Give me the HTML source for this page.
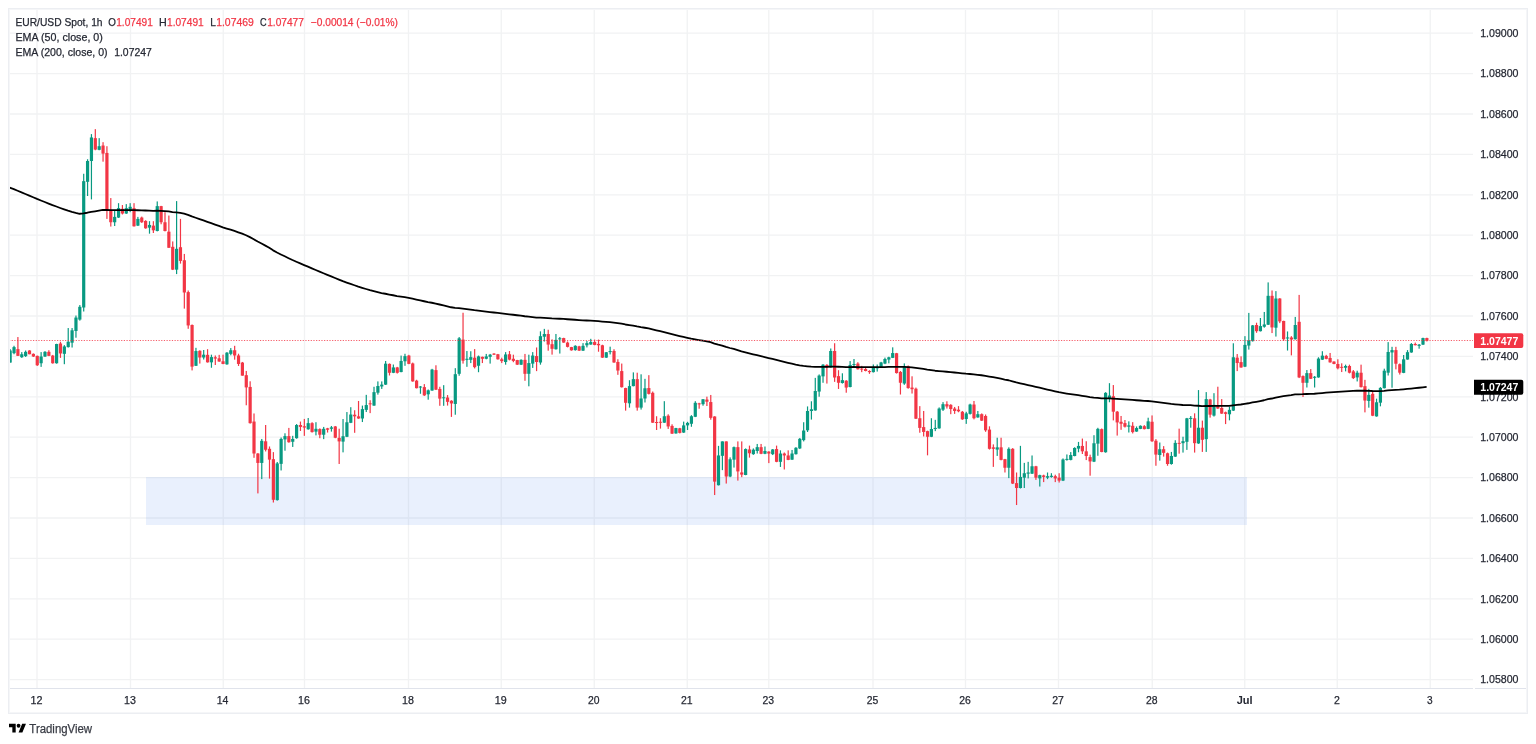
<!DOCTYPE html>
<html><head><meta charset="utf-8"><title>EUR/USD Spot 1h</title>
<style>html,body{margin:0;padding:0;background:#fff;}svg{display:block;}</style>
</head><body>
<svg width="1536" height="744" viewBox="0 0 1536 744">
<rect x="0" y="0" width="1536" height="744" fill="#ffffff"/>
<g stroke="#f1f2f3" stroke-width="1.3">
<line x1="9" y1="33.20" x2="1473" y2="33.20"/>
<line x1="9" y1="73.60" x2="1473" y2="73.60"/>
<line x1="9" y1="114.00" x2="1473" y2="114.00"/>
<line x1="9" y1="154.40" x2="1473" y2="154.40"/>
<line x1="9" y1="194.80" x2="1473" y2="194.80"/>
<line x1="9" y1="235.20" x2="1473" y2="235.20"/>
<line x1="9" y1="275.60" x2="1473" y2="275.60"/>
<line x1="9" y1="316.00" x2="1473" y2="316.00"/>
<line x1="9" y1="356.40" x2="1473" y2="356.40"/>
<line x1="9" y1="396.80" x2="1473" y2="396.80"/>
<line x1="9" y1="437.20" x2="1473" y2="437.20"/>
<line x1="9" y1="477.60" x2="1473" y2="477.60"/>
<line x1="9" y1="518.00" x2="1473" y2="518.00"/>
<line x1="9" y1="558.40" x2="1473" y2="558.40"/>
<line x1="9" y1="598.80" x2="1473" y2="598.80"/>
<line x1="9" y1="639.20" x2="1473" y2="639.20"/>
<line x1="9" y1="679.60" x2="1473" y2="679.60"/>
<line x1="37.00" y1="9" x2="37.00" y2="688"/>
<line x1="130.50" y1="9" x2="130.50" y2="688"/>
<line x1="223.25" y1="9" x2="223.25" y2="688"/>
<line x1="304.50" y1="9" x2="304.50" y2="688"/>
<line x1="408.50" y1="9" x2="408.50" y2="688"/>
<line x1="501.25" y1="9" x2="501.25" y2="688"/>
<line x1="594.25" y1="9" x2="594.25" y2="688"/>
<line x1="687.25" y1="9" x2="687.25" y2="688"/>
<line x1="768.80" y1="9" x2="768.80" y2="688"/>
<line x1="873.00" y1="9" x2="873.00" y2="688"/>
<line x1="965.50" y1="9" x2="965.50" y2="688"/>
<line x1="1058.50" y1="9" x2="1058.50" y2="688"/>
<line x1="1152.25" y1="9" x2="1152.25" y2="688"/>
<line x1="1244.75" y1="9" x2="1244.75" y2="688"/>
<line x1="1337.25" y1="9" x2="1337.25" y2="688"/>
<line x1="1430.25" y1="9" x2="1430.25" y2="688"/>
</g>
<rect x="146" y="477" width="1101" height="48" fill="rgb(108,155,242)" fill-opacity="0.15" shape-rendering="crispEdges"/>
<g>
<rect x="9.55" y="349.14" width="1.2" height="13.44" fill="#089981"/>
<rect x="8.55" y="350.48" width="3.2" height="12.10" fill="#089981"/>
<rect x="13.43" y="345.78" width="1.2" height="8.47" fill="#089981"/>
<rect x="12.43" y="347.12" width="3.2" height="6.05" fill="#089981"/>
<rect x="17.30" y="337.04" width="1.2" height="18.82" fill="#f23645"/>
<rect x="16.30" y="349.14" width="3.2" height="6.72" fill="#f23645"/>
<rect x="21.17" y="352.10" width="1.2" height="5.78" fill="#089981"/>
<rect x="20.17" y="354.25" width="3.2" height="2.96" fill="#089981"/>
<rect x="25.04" y="350.48" width="1.2" height="6.45" fill="#089981"/>
<rect x="24.04" y="351.83" width="3.2" height="4.30" fill="#089981"/>
<rect x="28.91" y="350.22" width="1.2" height="4.03" fill="#f23645"/>
<rect x="27.91" y="350.48" width="3.2" height="3.76" fill="#f23645"/>
<rect x="32.78" y="353.44" width="1.2" height="3.49" fill="#f23645"/>
<rect x="31.78" y="353.84" width="3.2" height="2.69" fill="#f23645"/>
<rect x="36.65" y="355.59" width="1.2" height="10.35" fill="#f23645"/>
<rect x="35.65" y="355.86" width="3.2" height="9.41" fill="#f23645"/>
<rect x="40.52" y="352.10" width="1.2" height="14.78" fill="#089981"/>
<rect x="39.52" y="356.53" width="3.2" height="6.72" fill="#089981"/>
<rect x="44.39" y="351.16" width="1.2" height="5.78" fill="#089981"/>
<rect x="43.39" y="351.83" width="3.2" height="4.70" fill="#089981"/>
<rect x="48.26" y="350.22" width="1.2" height="5.91" fill="#f23645"/>
<rect x="47.26" y="351.83" width="3.2" height="4.03" fill="#f23645"/>
<rect x="52.13" y="354.92" width="1.2" height="8.74" fill="#f23645"/>
<rect x="51.13" y="355.59" width="3.2" height="7.66" fill="#f23645"/>
<rect x="56.00" y="343.76" width="1.2" height="19.89" fill="#089981"/>
<rect x="55.00" y="344.03" width="3.2" height="19.22" fill="#089981"/>
<rect x="59.87" y="341.75" width="1.2" height="16.13" fill="#f23645"/>
<rect x="58.87" y="343.49" width="3.2" height="9.95" fill="#f23645"/>
<rect x="63.75" y="345.11" width="1.2" height="19.09" fill="#089981"/>
<rect x="62.75" y="346.45" width="3.2" height="7.39" fill="#089981"/>
<rect x="67.62" y="328.04" width="1.2" height="19.49" fill="#089981"/>
<rect x="66.62" y="341.75" width="3.2" height="5.38" fill="#089981"/>
<rect x="71.49" y="328.04" width="1.2" height="19.49" fill="#089981"/>
<rect x="70.49" y="330.32" width="3.2" height="12.37" fill="#089981"/>
<rect x="75.36" y="315.54" width="1.2" height="22.18" fill="#089981"/>
<rect x="74.36" y="317.55" width="3.2" height="13.44" fill="#089981"/>
<rect x="79.23" y="305.05" width="1.2" height="15.59" fill="#089981"/>
<rect x="78.23" y="306.80" width="3.2" height="12.77" fill="#089981"/>
<rect x="83.10" y="173.76" width="1.2" height="137.74" fill="#089981"/>
<rect x="82.10" y="181.16" width="3.2" height="126.34" fill="#089981"/>
<rect x="86.97" y="159.25" width="1.2" height="36.75" fill="#089981"/>
<rect x="85.97" y="160.99" width="3.2" height="20.83" fill="#089981"/>
<rect x="90.84" y="134.11" width="1.2" height="65.29" fill="#089981"/>
<rect x="89.84" y="137.47" width="3.2" height="23.52" fill="#089981"/>
<rect x="94.71" y="129.14" width="1.2" height="21.10" fill="#f23645"/>
<rect x="93.71" y="138.15" width="3.2" height="11.42" fill="#f23645"/>
<rect x="98.58" y="138.15" width="1.2" height="12.10" fill="#089981"/>
<rect x="97.58" y="146.21" width="3.2" height="3.63" fill="#089981"/>
<rect x="102.45" y="142.18" width="1.2" height="19.49" fill="#f23645"/>
<rect x="101.45" y="145.54" width="3.2" height="8.06" fill="#f23645"/>
<rect x="106.32" y="146.21" width="1.2" height="72.69" fill="#f23645"/>
<rect x="105.32" y="152.93" width="3.2" height="57.87" fill="#f23645"/>
<rect x="110.20" y="198.06" width="1.2" height="28.49" fill="#f23645"/>
<rect x="109.20" y="210.83" width="3.2" height="11.42" fill="#f23645"/>
<rect x="114.07" y="210.83" width="1.2" height="15.19" fill="#089981"/>
<rect x="113.07" y="216.88" width="3.2" height="5.38" fill="#089981"/>
<rect x="117.94" y="203.17" width="1.2" height="14.78" fill="#089981"/>
<rect x="116.94" y="208.15" width="3.2" height="9.41" fill="#089981"/>
<rect x="121.81" y="205.05" width="1.2" height="9.41" fill="#f23645"/>
<rect x="120.81" y="208.82" width="3.2" height="4.70" fill="#f23645"/>
<rect x="125.68" y="204.11" width="1.2" height="9.81" fill="#089981"/>
<rect x="124.68" y="208.15" width="3.2" height="5.38" fill="#089981"/>
<rect x="129.55" y="203.17" width="1.2" height="9.01" fill="#089981"/>
<rect x="128.55" y="206.80" width="3.2" height="3.36" fill="#089981"/>
<rect x="133.42" y="203.17" width="1.2" height="23.39" fill="#f23645"/>
<rect x="132.42" y="208.15" width="3.2" height="18.15" fill="#f23645"/>
<rect x="137.29" y="216.88" width="1.2" height="9.14" fill="#089981"/>
<rect x="136.29" y="218.90" width="3.2" height="6.72" fill="#089981"/>
<rect x="141.16" y="216.61" width="1.2" height="6.32" fill="#f23645"/>
<rect x="140.16" y="217.55" width="3.2" height="4.70" fill="#f23645"/>
<rect x="145.03" y="220.24" width="1.2" height="8.47" fill="#f23645"/>
<rect x="144.03" y="220.91" width="3.2" height="7.39" fill="#f23645"/>
<rect x="148.90" y="221.18" width="1.2" height="12.50" fill="#089981"/>
<rect x="147.90" y="224.95" width="3.2" height="2.69" fill="#089981"/>
<rect x="152.77" y="221.18" width="1.2" height="11.83" fill="#f23645"/>
<rect x="151.77" y="225.62" width="3.2" height="4.70" fill="#f23645"/>
<rect x="156.64" y="201.42" width="1.2" height="29.97" fill="#089981"/>
<rect x="155.64" y="206.13" width="3.2" height="24.87" fill="#089981"/>
<rect x="160.52" y="205.86" width="1.2" height="18.41" fill="#f23645"/>
<rect x="159.52" y="206.13" width="3.2" height="16.13" fill="#f23645"/>
<rect x="164.39" y="212.18" width="1.2" height="19.22" fill="#f23645"/>
<rect x="163.39" y="222.26" width="3.2" height="8.74" fill="#f23645"/>
<rect x="168.26" y="215.54" width="1.2" height="32.26" fill="#f23645"/>
<rect x="167.26" y="231.67" width="3.2" height="16.13" fill="#f23645"/>
<rect x="172.13" y="241.42" width="1.2" height="28.63" fill="#f23645"/>
<rect x="171.13" y="246.80" width="3.2" height="22.85" fill="#f23645"/>
<rect x="176.00" y="201.10" width="1.2" height="72.99" fill="#089981"/>
<rect x="175.00" y="248.82" width="3.2" height="20.83" fill="#089981"/>
<rect x="179.87" y="218.90" width="1.2" height="44.70" fill="#f23645"/>
<rect x="178.87" y="247.20" width="3.2" height="13.71" fill="#f23645"/>
<rect x="183.74" y="253.92" width="1.2" height="54.70" fill="#f23645"/>
<rect x="182.74" y="260.24" width="3.2" height="32.26" fill="#f23645"/>
<rect x="187.61" y="290.48" width="1.2" height="38.31" fill="#f23645"/>
<rect x="186.61" y="292.10" width="3.2" height="33.33" fill="#f23645"/>
<rect x="191.48" y="324.44" width="1.2" height="45.97" fill="#f23645"/>
<rect x="190.48" y="325.00" width="3.2" height="41.61" fill="#f23645"/>
<rect x="195.35" y="347.82" width="1.2" height="18.15" fill="#089981"/>
<rect x="194.35" y="351.05" width="3.2" height="14.76" fill="#089981"/>
<rect x="199.22" y="350.24" width="1.2" height="13.31" fill="#f23645"/>
<rect x="198.22" y="350.81" width="3.2" height="6.69" fill="#f23645"/>
<rect x="203.09" y="350.00" width="1.2" height="9.52" fill="#089981"/>
<rect x="202.09" y="354.68" width="3.2" height="2.82" fill="#089981"/>
<rect x="206.97" y="349.19" width="1.2" height="13.39" fill="#f23645"/>
<rect x="205.97" y="354.84" width="3.2" height="7.50" fill="#f23645"/>
<rect x="210.84" y="354.68" width="1.2" height="13.06" fill="#089981"/>
<rect x="209.84" y="357.10" width="3.2" height="5.24" fill="#089981"/>
<rect x="214.71" y="355.48" width="1.2" height="9.52" fill="#f23645"/>
<rect x="213.71" y="357.26" width="3.2" height="1.29" fill="#f23645"/>
<rect x="218.58" y="354.84" width="1.2" height="6.94" fill="#f23645"/>
<rect x="217.58" y="358.31" width="3.2" height="3.23" fill="#f23645"/>
<rect x="222.45" y="354.68" width="1.2" height="9.52" fill="#f23645"/>
<rect x="221.45" y="361.29" width="3.2" height="2.66" fill="#f23645"/>
<rect x="226.32" y="352.10" width="1.2" height="12.66" fill="#089981"/>
<rect x="225.32" y="352.66" width="3.2" height="11.69" fill="#089981"/>
<rect x="230.19" y="348.06" width="1.2" height="7.26" fill="#089981"/>
<rect x="229.19" y="350.24" width="3.2" height="3.63" fill="#089981"/>
<rect x="234.06" y="345.81" width="1.2" height="13.87" fill="#f23645"/>
<rect x="233.06" y="350.24" width="3.2" height="5.24" fill="#f23645"/>
<rect x="237.93" y="353.71" width="1.2" height="12.26" fill="#f23645"/>
<rect x="236.93" y="355.48" width="3.2" height="8.47" fill="#f23645"/>
<rect x="241.80" y="361.94" width="1.2" height="13.71" fill="#f23645"/>
<rect x="240.80" y="362.58" width="3.2" height="13.06" fill="#f23645"/>
<rect x="245.67" y="370.94" width="1.2" height="34.34" fill="#f23645"/>
<rect x="244.67" y="375.17" width="3.2" height="12.23" fill="#f23645"/>
<rect x="249.54" y="381.29" width="1.2" height="42.33" fill="#f23645"/>
<rect x="248.54" y="386.93" width="3.2" height="36.22" fill="#f23645"/>
<rect x="253.41" y="413.46" width="1.2" height="44.34" fill="#f23645"/>
<rect x="252.41" y="421.55" width="3.2" height="31.95" fill="#f23645"/>
<rect x="257.29" y="453.05" width="1.2" height="40.35" fill="#f23645"/>
<rect x="256.29" y="453.52" width="3.2" height="9.41" fill="#f23645"/>
<rect x="261.16" y="438.94" width="1.2" height="40.16" fill="#089981"/>
<rect x="260.16" y="440.82" width="3.2" height="22.11" fill="#089981"/>
<rect x="265.03" y="425.00" width="1.2" height="26.45" fill="#f23645"/>
<rect x="264.03" y="441.29" width="3.2" height="8.47" fill="#f23645"/>
<rect x="268.90" y="446.46" width="1.2" height="32.14" fill="#f23645"/>
<rect x="267.90" y="448.81" width="3.2" height="10.82" fill="#f23645"/>
<rect x="272.77" y="452.11" width="1.2" height="50.39" fill="#f23645"/>
<rect x="271.77" y="459.16" width="3.2" height="40.64" fill="#f23645"/>
<rect x="276.64" y="461.98" width="1.2" height="38.62" fill="#089981"/>
<rect x="275.64" y="463.40" width="3.2" height="36.70" fill="#089981"/>
<rect x="280.51" y="437.53" width="1.2" height="32.93" fill="#089981"/>
<rect x="279.51" y="438.94" width="3.2" height="24.93" fill="#089981"/>
<rect x="284.38" y="433.29" width="1.2" height="17.40" fill="#089981"/>
<rect x="283.38" y="436.11" width="3.2" height="3.29" fill="#089981"/>
<rect x="288.25" y="427.90" width="1.2" height="14.80" fill="#f23645"/>
<rect x="287.25" y="436.11" width="3.2" height="6.11" fill="#f23645"/>
<rect x="292.12" y="435.83" width="1.2" height="11.10" fill="#089981"/>
<rect x="291.12" y="438.94" width="3.2" height="2.82" fill="#089981"/>
<rect x="295.99" y="424.09" width="1.2" height="14.58" fill="#089981"/>
<rect x="294.99" y="425.03" width="3.2" height="13.17" fill="#089981"/>
<rect x="299.86" y="421.55" width="1.2" height="9.41" fill="#f23645"/>
<rect x="298.86" y="425.03" width="3.2" height="1.88" fill="#f23645"/>
<rect x="303.74" y="418.92" width="1.2" height="16.93" fill="#f23645"/>
<rect x="302.74" y="426.26" width="3.2" height="1.32" fill="#f23645"/>
<rect x="307.61" y="417.98" width="1.2" height="11.76" fill="#089981"/>
<rect x="306.61" y="423.15" width="3.2" height="6.11" fill="#089981"/>
<rect x="311.48" y="422.21" width="1.2" height="10.35" fill="#f23645"/>
<rect x="310.48" y="423.15" width="3.2" height="8.94" fill="#f23645"/>
<rect x="315.35" y="422.21" width="1.2" height="13.17" fill="#089981"/>
<rect x="314.35" y="428.80" width="3.2" height="2.82" fill="#089981"/>
<rect x="319.22" y="428.33" width="1.2" height="9.88" fill="#f23645"/>
<rect x="318.22" y="429.08" width="3.2" height="5.64" fill="#f23645"/>
<rect x="323.09" y="426.91" width="1.2" height="12.23" fill="#089981"/>
<rect x="322.09" y="428.80" width="3.2" height="5.93" fill="#089981"/>
<rect x="326.96" y="427.86" width="1.2" height="4.70" fill="#f23645"/>
<rect x="325.96" y="428.33" width="3.2" height="1.41" fill="#f23645"/>
<rect x="330.83" y="425.97" width="1.2" height="5.64" fill="#089981"/>
<rect x="329.83" y="427.38" width="3.2" height="1.41" fill="#089981"/>
<rect x="334.70" y="425.97" width="1.2" height="12.23" fill="#f23645"/>
<rect x="333.70" y="426.44" width="3.2" height="11.29" fill="#f23645"/>
<rect x="338.57" y="428.71" width="1.2" height="35.27" fill="#f23645"/>
<rect x="337.57" y="437.85" width="3.2" height="3.55" fill="#f23645"/>
<rect x="342.44" y="419.03" width="1.2" height="33.33" fill="#089981"/>
<rect x="341.44" y="436.24" width="3.2" height="5.38" fill="#089981"/>
<rect x="346.31" y="412.04" width="1.2" height="25.05" fill="#089981"/>
<rect x="345.31" y="422.26" width="3.2" height="14.52" fill="#089981"/>
<rect x="350.18" y="407.20" width="1.2" height="15.91" fill="#089981"/>
<rect x="349.18" y="414.52" width="3.2" height="8.28" fill="#089981"/>
<rect x="354.06" y="410.22" width="1.2" height="22.58" fill="#f23645"/>
<rect x="353.06" y="414.73" width="3.2" height="1.61" fill="#f23645"/>
<rect x="357.93" y="400.97" width="1.2" height="17.85" fill="#f23645"/>
<rect x="356.93" y="416.34" width="3.2" height="2.15" fill="#f23645"/>
<rect x="361.80" y="405.59" width="1.2" height="16.45" fill="#089981"/>
<rect x="360.80" y="409.14" width="3.2" height="9.35" fill="#089981"/>
<rect x="365.67" y="394.84" width="1.2" height="17.20" fill="#089981"/>
<rect x="364.67" y="405.05" width="3.2" height="4.84" fill="#089981"/>
<rect x="369.54" y="400.22" width="1.2" height="12.90" fill="#f23645"/>
<rect x="368.54" y="403.32" width="3.2" height="1.00" fill="#f23645"/>
<rect x="373.41" y="386.77" width="1.2" height="19.03" fill="#089981"/>
<rect x="372.41" y="392.15" width="3.2" height="13.44" fill="#089981"/>
<rect x="377.28" y="381.40" width="1.2" height="13.23" fill="#089981"/>
<rect x="376.28" y="386.02" width="3.2" height="6.67" fill="#089981"/>
<rect x="381.15" y="381.40" width="1.2" height="7.53" fill="#089981"/>
<rect x="380.15" y="384.62" width="3.2" height="1.83" fill="#089981"/>
<rect x="385.02" y="360.97" width="1.2" height="23.98" fill="#089981"/>
<rect x="384.02" y="363.66" width="3.2" height="20.97" fill="#089981"/>
<rect x="388.89" y="363.44" width="1.2" height="12.04" fill="#f23645"/>
<rect x="387.89" y="363.87" width="3.2" height="8.92" fill="#f23645"/>
<rect x="392.76" y="364.52" width="1.2" height="8.60" fill="#089981"/>
<rect x="391.76" y="367.42" width="3.2" height="5.38" fill="#089981"/>
<rect x="396.63" y="366.88" width="1.2" height="6.67" fill="#f23645"/>
<rect x="395.63" y="367.42" width="3.2" height="5.38" fill="#f23645"/>
<rect x="400.51" y="355.59" width="1.2" height="16.67" fill="#089981"/>
<rect x="399.51" y="360.97" width="3.2" height="11.08" fill="#089981"/>
<rect x="404.38" y="353.76" width="1.2" height="12.04" fill="#089981"/>
<rect x="403.38" y="356.13" width="3.2" height="5.16" fill="#089981"/>
<rect x="408.25" y="354.84" width="1.2" height="9.35" fill="#f23645"/>
<rect x="407.25" y="355.59" width="3.2" height="8.28" fill="#f23645"/>
<rect x="412.12" y="362.58" width="1.2" height="19.14" fill="#f23645"/>
<rect x="411.12" y="363.44" width="3.2" height="17.96" fill="#f23645"/>
<rect x="415.99" y="379.78" width="1.2" height="8.60" fill="#f23645"/>
<rect x="414.99" y="380.65" width="3.2" height="7.53" fill="#f23645"/>
<rect x="419.86" y="386.02" width="1.2" height="7.74" fill="#089981"/>
<rect x="418.86" y="386.54" width="3.2" height="1.00" fill="#089981"/>
<rect x="423.73" y="384.09" width="1.2" height="11.83" fill="#f23645"/>
<rect x="422.73" y="387.10" width="3.2" height="8.28" fill="#f23645"/>
<rect x="427.60" y="389.46" width="1.2" height="10.22" fill="#089981"/>
<rect x="426.60" y="390.32" width="3.2" height="3.98" fill="#089981"/>
<rect x="431.47" y="368.82" width="1.2" height="21.94" fill="#089981"/>
<rect x="430.47" y="369.57" width="3.2" height="20.97" fill="#089981"/>
<rect x="435.34" y="365.27" width="1.2" height="24.73" fill="#f23645"/>
<rect x="434.34" y="370.11" width="3.2" height="19.57" fill="#f23645"/>
<rect x="439.21" y="386.77" width="1.2" height="19.03" fill="#f23645"/>
<rect x="438.21" y="388.92" width="3.2" height="9.68" fill="#f23645"/>
<rect x="443.08" y="385.16" width="1.2" height="20.65" fill="#089981"/>
<rect x="442.08" y="397.30" width="3.2" height="1.00" fill="#089981"/>
<rect x="446.95" y="395.05" width="1.2" height="10.54" fill="#f23645"/>
<rect x="445.95" y="397.53" width="3.2" height="4.30" fill="#f23645"/>
<rect x="450.83" y="400.22" width="1.2" height="16.67" fill="#f23645"/>
<rect x="449.83" y="400.75" width="3.2" height="2.69" fill="#f23645"/>
<rect x="454.70" y="368.17" width="1.2" height="46.56" fill="#089981"/>
<rect x="453.70" y="374.19" width="3.2" height="29.78" fill="#089981"/>
<rect x="458.57" y="337.04" width="1.2" height="38.71" fill="#089981"/>
<rect x="457.57" y="338.33" width="3.2" height="35.48" fill="#089981"/>
<rect x="462.44" y="312.74" width="1.2" height="50.86" fill="#f23645"/>
<rect x="461.44" y="339.62" width="3.2" height="21.08" fill="#f23645"/>
<rect x="466.31" y="351.02" width="1.2" height="15.81" fill="#089981"/>
<rect x="465.31" y="358.76" width="3.2" height="1.08" fill="#089981"/>
<rect x="470.18" y="351.24" width="1.2" height="11.83" fill="#089981"/>
<rect x="469.18" y="357.15" width="3.2" height="2.69" fill="#089981"/>
<rect x="474.05" y="349.09" width="1.2" height="19.35" fill="#f23645"/>
<rect x="473.05" y="357.69" width="3.2" height="9.46" fill="#f23645"/>
<rect x="477.92" y="355.54" width="1.2" height="16.67" fill="#089981"/>
<rect x="476.92" y="356.40" width="3.2" height="9.35" fill="#089981"/>
<rect x="481.79" y="356.61" width="1.2" height="6.45" fill="#f23645"/>
<rect x="480.79" y="356.83" width="3.2" height="1.94" fill="#f23645"/>
<rect x="485.66" y="353.92" width="1.2" height="5.38" fill="#089981"/>
<rect x="484.66" y="356.40" width="3.2" height="2.37" fill="#089981"/>
<rect x="489.53" y="353.92" width="1.2" height="9.68" fill="#089981"/>
<rect x="488.53" y="354.68" width="3.2" height="2.15" fill="#089981"/>
<rect x="493.40" y="353.17" width="1.2" height="1.83" fill="#f23645"/>
<rect x="492.40" y="353.60" width="3.2" height="1.08" fill="#f23645"/>
<rect x="497.28" y="353.92" width="1.2" height="5.70" fill="#f23645"/>
<rect x="496.28" y="354.25" width="3.2" height="5.05" fill="#f23645"/>
<rect x="501.15" y="357.69" width="1.2" height="5.38" fill="#f23645"/>
<rect x="500.15" y="359.30" width="3.2" height="1.83" fill="#f23645"/>
<rect x="505.02" y="352.10" width="1.2" height="12.58" fill="#089981"/>
<rect x="504.02" y="354.46" width="3.2" height="7.53" fill="#089981"/>
<rect x="508.89" y="351.02" width="1.2" height="9.35" fill="#f23645"/>
<rect x="507.89" y="354.25" width="3.2" height="5.38" fill="#f23645"/>
<rect x="512.76" y="354.68" width="1.2" height="7.53" fill="#f23645"/>
<rect x="511.76" y="358.76" width="3.2" height="2.15" fill="#f23645"/>
<rect x="516.63" y="359.84" width="1.2" height="5.16" fill="#f23645"/>
<rect x="515.63" y="360.05" width="3.2" height="4.62" fill="#f23645"/>
<rect x="520.50" y="359.30" width="1.2" height="5.70" fill="#089981"/>
<rect x="519.50" y="359.84" width="3.2" height="4.84" fill="#089981"/>
<rect x="524.37" y="353.92" width="1.2" height="26.88" fill="#f23645"/>
<rect x="523.37" y="359.84" width="3.2" height="13.98" fill="#f23645"/>
<rect x="528.24" y="354.68" width="1.2" height="31.62" fill="#089981"/>
<rect x="527.24" y="363.06" width="3.2" height="10.75" fill="#089981"/>
<rect x="532.11" y="352.10" width="1.2" height="15.81" fill="#089981"/>
<rect x="531.11" y="355.54" width="3.2" height="8.06" fill="#089981"/>
<rect x="535.98" y="347.47" width="1.2" height="23.66" fill="#f23645"/>
<rect x="534.98" y="356.08" width="3.2" height="5.91" fill="#f23645"/>
<rect x="539.85" y="331.34" width="1.2" height="33.33" fill="#089981"/>
<rect x="538.85" y="336.18" width="3.2" height="26.34" fill="#089981"/>
<rect x="543.72" y="328.87" width="1.2" height="12.69" fill="#089981"/>
<rect x="542.72" y="334.03" width="3.2" height="2.69" fill="#089981"/>
<rect x="547.60" y="329.73" width="1.2" height="20.97" fill="#f23645"/>
<rect x="546.60" y="334.03" width="3.2" height="10.54" fill="#f23645"/>
<rect x="551.47" y="339.35" width="1.2" height="15.27" fill="#f23645"/>
<rect x="550.47" y="344.19" width="3.2" height="4.62" fill="#f23645"/>
<rect x="555.34" y="333.98" width="1.2" height="15.59" fill="#089981"/>
<rect x="554.34" y="339.89" width="3.2" height="9.35" fill="#089981"/>
<rect x="559.21" y="336.99" width="1.2" height="16.56" fill="#089981"/>
<rect x="558.21" y="338.28" width="3.2" height="1.08" fill="#089981"/>
<rect x="563.08" y="337.74" width="1.2" height="5.05" fill="#f23645"/>
<rect x="562.08" y="338.06" width="3.2" height="4.52" fill="#f23645"/>
<rect x="566.95" y="341.51" width="1.2" height="5.91" fill="#f23645"/>
<rect x="565.95" y="342.58" width="3.2" height="4.30" fill="#f23645"/>
<rect x="570.82" y="346.88" width="1.2" height="3.76" fill="#f23645"/>
<rect x="569.82" y="347.10" width="3.2" height="3.23" fill="#f23645"/>
<rect x="574.69" y="345.27" width="1.2" height="5.38" fill="#089981"/>
<rect x="573.69" y="345.81" width="3.2" height="4.30" fill="#089981"/>
<rect x="578.56" y="345.81" width="1.2" height="5.16" fill="#f23645"/>
<rect x="577.56" y="346.34" width="3.2" height="4.30" fill="#f23645"/>
<rect x="582.43" y="343.12" width="1.2" height="7.85" fill="#089981"/>
<rect x="581.43" y="345.81" width="3.2" height="4.84" fill="#089981"/>
<rect x="586.30" y="340.97" width="1.2" height="6.45" fill="#089981"/>
<rect x="585.30" y="343.12" width="3.2" height="2.15" fill="#089981"/>
<rect x="590.17" y="338.82" width="1.2" height="5.91" fill="#089981"/>
<rect x="589.17" y="342.04" width="3.2" height="2.47" fill="#089981"/>
<rect x="594.05" y="339.57" width="1.2" height="5.70" fill="#f23645"/>
<rect x="593.05" y="342.04" width="3.2" height="2.90" fill="#f23645"/>
<rect x="597.92" y="339.57" width="1.2" height="12.15" fill="#f23645"/>
<rect x="596.92" y="343.87" width="3.2" height="1.40" fill="#f23645"/>
<rect x="601.79" y="344.73" width="1.2" height="13.12" fill="#f23645"/>
<rect x="600.79" y="345.27" width="3.2" height="12.37" fill="#f23645"/>
<rect x="605.66" y="352.04" width="1.2" height="5.81" fill="#089981"/>
<rect x="604.66" y="352.26" width="3.2" height="5.38" fill="#089981"/>
<rect x="609.53" y="346.67" width="1.2" height="7.74" fill="#089981"/>
<rect x="608.53" y="351.11" width="3.2" height="1.00" fill="#089981"/>
<rect x="613.40" y="349.25" width="1.2" height="13.55" fill="#f23645"/>
<rect x="612.40" y="350.97" width="3.2" height="11.51" fill="#f23645"/>
<rect x="617.27" y="359.25" width="1.2" height="15.59" fill="#f23645"/>
<rect x="616.27" y="361.94" width="3.2" height="8.60" fill="#f23645"/>
<rect x="621.14" y="363.55" width="1.2" height="23.98" fill="#f23645"/>
<rect x="620.14" y="371.08" width="3.2" height="16.13" fill="#f23645"/>
<rect x="625.01" y="387.74" width="1.2" height="22.90" fill="#f23645"/>
<rect x="624.01" y="388.06" width="3.2" height="14.73" fill="#f23645"/>
<rect x="628.88" y="380.22" width="1.2" height="27.42" fill="#089981"/>
<rect x="627.88" y="386.13" width="3.2" height="17.20" fill="#089981"/>
<rect x="632.75" y="372.37" width="1.2" height="13.98" fill="#089981"/>
<rect x="631.75" y="379.14" width="3.2" height="6.99" fill="#089981"/>
<rect x="636.62" y="372.69" width="1.2" height="37.96" fill="#f23645"/>
<rect x="635.62" y="379.14" width="3.2" height="28.49" fill="#f23645"/>
<rect x="640.49" y="374.30" width="1.2" height="35.27" fill="#089981"/>
<rect x="639.49" y="398.49" width="3.2" height="9.14" fill="#089981"/>
<rect x="644.37" y="378.82" width="1.2" height="23.66" fill="#089981"/>
<rect x="643.37" y="388.28" width="3.2" height="10.22" fill="#089981"/>
<rect x="648.24" y="375.16" width="1.2" height="19.35" fill="#f23645"/>
<rect x="647.24" y="388.06" width="3.2" height="5.81" fill="#f23645"/>
<rect x="652.11" y="391.51" width="1.2" height="31.40" fill="#f23645"/>
<rect x="651.11" y="392.80" width="3.2" height="29.89" fill="#f23645"/>
<rect x="655.98" y="416.24" width="1.2" height="13.76" fill="#f23645"/>
<rect x="654.98" y="422.03" width="3.2" height="1.00" fill="#f23645"/>
<rect x="659.85" y="418.17" width="1.2" height="10.43" fill="#f23645"/>
<rect x="658.85" y="421.76" width="3.2" height="1.00" fill="#f23645"/>
<rect x="663.72" y="401.18" width="1.2" height="21.72" fill="#089981"/>
<rect x="662.72" y="416.24" width="3.2" height="6.45" fill="#089981"/>
<rect x="667.59" y="414.30" width="1.2" height="14.62" fill="#f23645"/>
<rect x="666.59" y="415.70" width="3.2" height="10.75" fill="#f23645"/>
<rect x="671.46" y="424.30" width="1.2" height="9.68" fill="#f23645"/>
<rect x="670.46" y="425.91" width="3.2" height="7.74" fill="#f23645"/>
<rect x="675.33" y="427.85" width="1.2" height="5.81" fill="#089981"/>
<rect x="674.33" y="428.06" width="3.2" height="5.38" fill="#089981"/>
<rect x="679.20" y="427.85" width="1.2" height="5.59" fill="#f23645"/>
<rect x="678.20" y="428.28" width="3.2" height="4.62" fill="#f23645"/>
<rect x="683.07" y="421.61" width="1.2" height="11.29" fill="#089981"/>
<rect x="682.07" y="425.38" width="3.2" height="7.20" fill="#089981"/>
<rect x="686.94" y="421.83" width="1.2" height="8.17" fill="#089981"/>
<rect x="685.94" y="422.90" width="3.2" height="2.47" fill="#089981"/>
<rect x="690.82" y="415.16" width="1.2" height="11.61" fill="#089981"/>
<rect x="689.82" y="416.24" width="3.2" height="7.53" fill="#089981"/>
<rect x="694.69" y="401.18" width="1.2" height="15.91" fill="#089981"/>
<rect x="693.69" y="402.80" width="3.2" height="13.98" fill="#089981"/>
<rect x="698.56" y="402.80" width="1.2" height="5.91" fill="#f23645"/>
<rect x="697.56" y="403.37" width="3.2" height="1.00" fill="#f23645"/>
<rect x="702.43" y="399.03" width="1.2" height="6.67" fill="#089981"/>
<rect x="701.43" y="399.25" width="3.2" height="4.95" fill="#089981"/>
<rect x="706.30" y="396.67" width="1.2" height="9.35" fill="#f23645"/>
<rect x="705.30" y="399.57" width="3.2" height="2.15" fill="#f23645"/>
<rect x="710.17" y="394.95" width="1.2" height="24.73" fill="#f23645"/>
<rect x="709.17" y="402.04" width="3.2" height="15.81" fill="#f23645"/>
<rect x="714.04" y="416.24" width="1.2" height="78.80" fill="#f23645"/>
<rect x="713.04" y="416.49" width="3.2" height="65.13" fill="#f23645"/>
<rect x="717.91" y="445.87" width="1.2" height="39.59" fill="#089981"/>
<rect x="716.91" y="455.45" width="3.2" height="29.76" fill="#089981"/>
<rect x="721.78" y="441.40" width="1.2" height="28.74" fill="#089981"/>
<rect x="720.78" y="441.40" width="3.2" height="14.43" fill="#089981"/>
<rect x="725.65" y="441.40" width="1.2" height="42.15" fill="#f23645"/>
<rect x="724.65" y="441.40" width="3.2" height="35.12" fill="#f23645"/>
<rect x="729.52" y="457.36" width="1.2" height="19.80" fill="#089981"/>
<rect x="728.52" y="459.28" width="3.2" height="17.24" fill="#089981"/>
<rect x="733.39" y="446.51" width="1.2" height="21.07" fill="#089981"/>
<rect x="732.39" y="447.15" width="3.2" height="12.52" fill="#089981"/>
<rect x="737.26" y="441.40" width="1.2" height="39.21" fill="#f23645"/>
<rect x="736.26" y="447.15" width="3.2" height="24.27" fill="#f23645"/>
<rect x="741.14" y="441.40" width="1.2" height="35.76" fill="#f23645"/>
<rect x="740.14" y="472.43" width="3.2" height="2.17" fill="#f23645"/>
<rect x="745.01" y="448.42" width="1.2" height="26.82" fill="#089981"/>
<rect x="744.01" y="449.06" width="3.2" height="25.93" fill="#089981"/>
<rect x="748.88" y="445.61" width="1.2" height="12.01" fill="#f23645"/>
<rect x="747.88" y="449.44" width="3.2" height="3.83" fill="#f23645"/>
<rect x="752.75" y="448.42" width="1.2" height="6.39" fill="#089981"/>
<rect x="751.75" y="449.70" width="3.2" height="4.47" fill="#089981"/>
<rect x="756.62" y="443.95" width="1.2" height="9.58" fill="#089981"/>
<rect x="755.62" y="447.15" width="3.2" height="3.83" fill="#089981"/>
<rect x="760.49" y="443.95" width="1.2" height="10.22" fill="#f23645"/>
<rect x="759.49" y="447.15" width="3.2" height="6.64" fill="#f23645"/>
<rect x="764.36" y="446.51" width="1.2" height="7.66" fill="#089981"/>
<rect x="763.36" y="450.98" width="3.2" height="2.81" fill="#089981"/>
<rect x="768.23" y="451.23" width="1.2" height="11.88" fill="#f23645"/>
<rect x="767.23" y="451.62" width="3.2" height="1.92" fill="#f23645"/>
<rect x="772.10" y="449.06" width="1.2" height="6.00" fill="#089981"/>
<rect x="771.10" y="449.44" width="3.2" height="4.73" fill="#089981"/>
<rect x="775.97" y="445.61" width="1.2" height="16.60" fill="#f23645"/>
<rect x="774.97" y="449.06" width="3.2" height="12.77" fill="#f23645"/>
<rect x="779.84" y="450.34" width="1.2" height="16.60" fill="#089981"/>
<rect x="778.84" y="453.53" width="3.2" height="8.30" fill="#089981"/>
<rect x="783.71" y="452.51" width="1.2" height="16.99" fill="#f23645"/>
<rect x="782.71" y="453.53" width="3.2" height="1.92" fill="#f23645"/>
<rect x="787.59" y="450.34" width="1.2" height="9.83" fill="#f23645"/>
<rect x="786.59" y="455.45" width="3.2" height="4.47" fill="#f23645"/>
<rect x="791.46" y="449.96" width="1.2" height="9.96" fill="#089981"/>
<rect x="790.46" y="453.53" width="3.2" height="6.13" fill="#089981"/>
<rect x="795.33" y="447.15" width="1.2" height="7.41" fill="#089981"/>
<rect x="794.33" y="447.78" width="3.2" height="6.39" fill="#089981"/>
<rect x="799.20" y="437.95" width="1.2" height="11.11" fill="#089981"/>
<rect x="798.20" y="438.84" width="3.2" height="9.58" fill="#089981"/>
<rect x="803.07" y="422.24" width="1.2" height="19.16" fill="#089981"/>
<rect x="802.07" y="430.54" width="3.2" height="9.58" fill="#089981"/>
<rect x="806.94" y="406.43" width="1.2" height="25.57" fill="#089981"/>
<rect x="805.94" y="411.00" width="3.2" height="19.30" fill="#089981"/>
<rect x="810.81" y="401.29" width="1.2" height="18.29" fill="#089981"/>
<rect x="809.81" y="409.29" width="3.2" height="1.71" fill="#089981"/>
<rect x="814.68" y="377.86" width="1.2" height="32.80" fill="#089981"/>
<rect x="813.68" y="391.00" width="3.2" height="19.43" fill="#089981"/>
<rect x="818.55" y="374.43" width="1.2" height="22.29" fill="#089981"/>
<rect x="817.55" y="375.57" width="3.2" height="16.00" fill="#089981"/>
<rect x="822.42" y="364.14" width="1.2" height="18.63" fill="#089981"/>
<rect x="821.42" y="364.71" width="3.2" height="11.66" fill="#089981"/>
<rect x="826.29" y="364.14" width="1.2" height="19.43" fill="#f23645"/>
<rect x="825.29" y="364.94" width="3.2" height="2.63" fill="#f23645"/>
<rect x="830.16" y="348.49" width="1.2" height="19.43" fill="#089981"/>
<rect x="829.16" y="351.00" width="3.2" height="16.57" fill="#089981"/>
<rect x="834.03" y="343.23" width="1.2" height="38.63" fill="#f23645"/>
<rect x="833.03" y="351.00" width="3.2" height="26.51" fill="#f23645"/>
<rect x="837.91" y="370.20" width="1.2" height="18.74" fill="#f23645"/>
<rect x="836.91" y="376.14" width="3.2" height="6.63" fill="#f23645"/>
<rect x="841.78" y="373.29" width="1.2" height="10.29" fill="#089981"/>
<rect x="840.78" y="380.14" width="3.2" height="2.86" fill="#089981"/>
<rect x="845.65" y="380.14" width="1.2" height="12.57" fill="#f23645"/>
<rect x="844.65" y="380.71" width="3.2" height="6.86" fill="#f23645"/>
<rect x="849.52" y="361.06" width="1.2" height="26.29" fill="#089981"/>
<rect x="848.52" y="364.94" width="3.2" height="22.06" fill="#089981"/>
<rect x="853.39" y="359.00" width="1.2" height="8.57" fill="#089981"/>
<rect x="852.39" y="364.04" width="3.2" height="1.00" fill="#089981"/>
<rect x="857.26" y="362.20" width="1.2" height="7.31" fill="#f23645"/>
<rect x="856.26" y="363.57" width="3.2" height="5.71" fill="#f23645"/>
<rect x="861.13" y="365.86" width="1.2" height="6.29" fill="#f23645"/>
<rect x="860.13" y="368.61" width="3.2" height="1.00" fill="#f23645"/>
<rect x="865.00" y="367.57" width="1.2" height="3.77" fill="#f23645"/>
<rect x="864.00" y="369.06" width="3.2" height="1.94" fill="#f23645"/>
<rect x="868.87" y="370.20" width="1.2" height="3.66" fill="#f23645"/>
<rect x="867.87" y="371.00" width="3.2" height="1.14" fill="#f23645"/>
<rect x="872.74" y="364.49" width="1.2" height="8.00" fill="#089981"/>
<rect x="871.74" y="367.57" width="3.2" height="4.57" fill="#089981"/>
<rect x="876.61" y="364.49" width="1.2" height="7.09" fill="#089981"/>
<rect x="875.61" y="367.00" width="3.2" height="1.37" fill="#089981"/>
<rect x="880.48" y="361.86" width="1.2" height="6.06" fill="#089981"/>
<rect x="879.48" y="362.43" width="3.2" height="5.14" fill="#089981"/>
<rect x="884.36" y="357.63" width="1.2" height="6.51" fill="#089981"/>
<rect x="883.36" y="359.00" width="3.2" height="4.57" fill="#089981"/>
<rect x="888.23" y="356.71" width="1.2" height="6.63" fill="#089981"/>
<rect x="887.23" y="357.29" width="3.2" height="2.29" fill="#089981"/>
<rect x="892.10" y="347.34" width="1.2" height="10.74" fill="#089981"/>
<rect x="891.10" y="353.06" width="3.2" height="4.80" fill="#089981"/>
<rect x="895.97" y="352.90" width="1.2" height="20.65" fill="#f23645"/>
<rect x="894.97" y="353.23" width="3.2" height="19.84" fill="#f23645"/>
<rect x="899.84" y="370.97" width="1.2" height="23.55" fill="#f23645"/>
<rect x="898.84" y="371.94" width="3.2" height="10.81" fill="#f23645"/>
<rect x="903.71" y="363.39" width="1.2" height="21.45" fill="#089981"/>
<rect x="902.71" y="366.61" width="3.2" height="16.94" fill="#089981"/>
<rect x="907.58" y="365.48" width="1.2" height="23.23" fill="#f23645"/>
<rect x="906.58" y="366.13" width="3.2" height="21.94" fill="#f23645"/>
<rect x="911.45" y="376.29" width="1.2" height="17.26" fill="#f23645"/>
<rect x="910.45" y="387.58" width="3.2" height="1.61" fill="#f23645"/>
<rect x="915.32" y="387.58" width="1.2" height="31.45" fill="#f23645"/>
<rect x="914.32" y="388.71" width="3.2" height="30.00" fill="#f23645"/>
<rect x="919.19" y="406.13" width="1.2" height="26.61" fill="#f23645"/>
<rect x="918.19" y="418.23" width="3.2" height="9.68" fill="#f23645"/>
<rect x="923.06" y="410.97" width="1.2" height="25.48" fill="#f23645"/>
<rect x="922.06" y="427.10" width="3.2" height="4.84" fill="#f23645"/>
<rect x="926.93" y="430.65" width="1.2" height="24.68" fill="#f23645"/>
<rect x="925.93" y="431.13" width="3.2" height="5.65" fill="#f23645"/>
<rect x="930.80" y="418.23" width="1.2" height="18.87" fill="#089981"/>
<rect x="929.80" y="429.03" width="3.2" height="7.74" fill="#089981"/>
<rect x="934.68" y="419.84" width="1.2" height="11.29" fill="#089981"/>
<rect x="933.68" y="427.90" width="3.2" height="1.13" fill="#089981"/>
<rect x="938.55" y="407.42" width="1.2" height="21.29" fill="#089981"/>
<rect x="937.55" y="408.55" width="3.2" height="19.84" fill="#089981"/>
<rect x="942.42" y="402.10" width="1.2" height="8.87" fill="#089981"/>
<rect x="941.42" y="404.19" width="3.2" height="5.48" fill="#089981"/>
<rect x="946.29" y="401.29" width="1.2" height="7.26" fill="#f23645"/>
<rect x="945.29" y="404.19" width="3.2" height="2.26" fill="#f23645"/>
<rect x="950.16" y="404.19" width="1.2" height="10.00" fill="#f23645"/>
<rect x="949.16" y="404.84" width="3.2" height="4.19" fill="#f23645"/>
<rect x="954.03" y="406.94" width="1.2" height="6.94" fill="#f23645"/>
<rect x="953.03" y="408.55" width="3.2" height="2.42" fill="#f23645"/>
<rect x="957.90" y="406.13" width="1.2" height="6.13" fill="#f23645"/>
<rect x="956.90" y="409.68" width="3.2" height="1.61" fill="#f23645"/>
<rect x="961.77" y="410.97" width="1.2" height="8.87" fill="#f23645"/>
<rect x="960.77" y="411.77" width="3.2" height="7.58" fill="#f23645"/>
<rect x="965.64" y="411.77" width="1.2" height="12.10" fill="#089981"/>
<rect x="964.64" y="413.39" width="3.2" height="5.65" fill="#089981"/>
<rect x="969.51" y="403.71" width="1.2" height="10.81" fill="#089981"/>
<rect x="968.51" y="404.52" width="3.2" height="9.35" fill="#089981"/>
<rect x="973.38" y="400.97" width="1.2" height="18.39" fill="#f23645"/>
<rect x="972.38" y="404.52" width="3.2" height="13.71" fill="#f23645"/>
<rect x="977.25" y="410.97" width="1.2" height="6.77" fill="#089981"/>
<rect x="976.25" y="414.19" width="3.2" height="3.23" fill="#089981"/>
<rect x="981.13" y="413.39" width="1.2" height="7.58" fill="#f23645"/>
<rect x="980.13" y="414.19" width="3.2" height="6.45" fill="#f23645"/>
<rect x="985.00" y="414.50" width="1.2" height="17.31" fill="#f23645"/>
<rect x="984.00" y="415.98" width="3.2" height="14.35" fill="#f23645"/>
<rect x="988.87" y="426.33" width="1.2" height="23.22" fill="#f23645"/>
<rect x="987.87" y="429.59" width="3.2" height="19.23" fill="#f23645"/>
<rect x="992.74" y="444.38" width="1.2" height="22.49" fill="#f23645"/>
<rect x="991.74" y="447.34" width="3.2" height="1.48" fill="#f23645"/>
<rect x="996.61" y="437.72" width="1.2" height="18.20" fill="#089981"/>
<rect x="995.61" y="447.34" width="3.2" height="2.22" fill="#089981"/>
<rect x="1000.48" y="437.72" width="1.2" height="22.63" fill="#f23645"/>
<rect x="999.48" y="447.34" width="3.2" height="12.57" fill="#f23645"/>
<rect x="1004.35" y="458.88" width="1.2" height="13.61" fill="#f23645"/>
<rect x="1003.35" y="459.17" width="3.2" height="8.58" fill="#f23645"/>
<rect x="1008.22" y="447.34" width="1.2" height="30.77" fill="#089981"/>
<rect x="1007.22" y="448.82" width="3.2" height="18.93" fill="#089981"/>
<rect x="1012.09" y="448.08" width="1.2" height="35.95" fill="#f23645"/>
<rect x="1011.09" y="448.82" width="3.2" height="34.76" fill="#f23645"/>
<rect x="1015.96" y="472.49" width="1.2" height="32.54" fill="#f23645"/>
<rect x="1014.96" y="483.14" width="3.2" height="4.88" fill="#f23645"/>
<rect x="1019.83" y="445.86" width="1.2" height="42.60" fill="#089981"/>
<rect x="1018.83" y="476.92" width="3.2" height="11.09" fill="#089981"/>
<rect x="1023.70" y="462.87" width="1.2" height="25.15" fill="#089981"/>
<rect x="1022.70" y="473.22" width="3.2" height="4.44" fill="#089981"/>
<rect x="1027.57" y="461.83" width="1.2" height="16.57" fill="#089981"/>
<rect x="1026.57" y="472.49" width="3.2" height="1.18" fill="#089981"/>
<rect x="1031.45" y="455.47" width="1.2" height="18.49" fill="#089981"/>
<rect x="1030.45" y="466.27" width="3.2" height="7.40" fill="#089981"/>
<rect x="1035.32" y="465.83" width="1.2" height="14.05" fill="#f23645"/>
<rect x="1034.32" y="466.27" width="3.2" height="11.39" fill="#f23645"/>
<rect x="1039.19" y="474.70" width="1.2" height="11.83" fill="#089981"/>
<rect x="1038.19" y="475.15" width="3.2" height="3.25" fill="#089981"/>
<rect x="1043.06" y="474.70" width="1.2" height="7.40" fill="#f23645"/>
<rect x="1042.06" y="475.44" width="3.2" height="1.48" fill="#f23645"/>
<rect x="1046.93" y="472.49" width="1.2" height="6.66" fill="#089981"/>
<rect x="1045.93" y="476.18" width="3.2" height="1.48" fill="#089981"/>
<rect x="1050.80" y="473.22" width="1.2" height="4.44" fill="#089981"/>
<rect x="1049.80" y="475.74" width="3.2" height="1.18" fill="#089981"/>
<rect x="1054.67" y="474.70" width="1.2" height="7.40" fill="#f23645"/>
<rect x="1053.67" y="476.18" width="3.2" height="2.22" fill="#f23645"/>
<rect x="1058.54" y="473.22" width="1.2" height="9.32" fill="#f23645"/>
<rect x="1057.54" y="477.66" width="3.2" height="2.96" fill="#f23645"/>
<rect x="1062.41" y="458.43" width="1.2" height="22.63" fill="#089981"/>
<rect x="1061.41" y="459.47" width="3.2" height="21.15" fill="#089981"/>
<rect x="1066.28" y="454.44" width="1.2" height="6.21" fill="#089981"/>
<rect x="1065.28" y="458.88" width="3.2" height="1.04" fill="#089981"/>
<rect x="1070.15" y="452.07" width="1.2" height="8.28" fill="#089981"/>
<rect x="1069.15" y="455.03" width="3.2" height="4.88" fill="#089981"/>
<rect x="1074.02" y="447.28" width="1.2" height="9.01" fill="#089981"/>
<rect x="1073.02" y="447.96" width="3.2" height="8.06" fill="#089981"/>
<rect x="1077.90" y="441.91" width="1.2" height="10.35" fill="#089981"/>
<rect x="1076.90" y="445.94" width="3.2" height="2.69" fill="#089981"/>
<rect x="1081.77" y="438.55" width="1.2" height="15.46" fill="#f23645"/>
<rect x="1080.77" y="445.94" width="3.2" height="5.38" fill="#f23645"/>
<rect x="1085.64" y="441.24" width="1.2" height="18.82" fill="#f23645"/>
<rect x="1084.64" y="451.32" width="3.2" height="4.70" fill="#f23645"/>
<rect x="1089.51" y="454.68" width="1.2" height="21.02" fill="#f23645"/>
<rect x="1088.51" y="457.10" width="3.2" height="4.30" fill="#f23645"/>
<rect x="1093.38" y="435.19" width="1.2" height="26.88" fill="#089981"/>
<rect x="1092.38" y="443.25" width="3.2" height="18.41" fill="#089981"/>
<rect x="1097.25" y="427.80" width="1.2" height="27.96" fill="#089981"/>
<rect x="1096.25" y="428.87" width="3.2" height="14.78" fill="#089981"/>
<rect x="1101.12" y="428.47" width="1.2" height="23.79" fill="#f23645"/>
<rect x="1100.12" y="429.14" width="3.2" height="22.85" fill="#f23645"/>
<rect x="1104.99" y="392.18" width="1.2" height="60.48" fill="#089981"/>
<rect x="1103.99" y="392.85" width="3.2" height="59.41" fill="#089981"/>
<rect x="1108.86" y="383.17" width="1.2" height="19.09" fill="#089981"/>
<rect x="1107.86" y="395.54" width="3.2" height="2.69" fill="#089981"/>
<rect x="1112.73" y="385.05" width="1.2" height="35.35" fill="#f23645"/>
<rect x="1111.73" y="396.21" width="3.2" height="15.46" fill="#f23645"/>
<rect x="1116.60" y="410.99" width="1.2" height="24.60" fill="#f23645"/>
<rect x="1115.60" y="411.67" width="3.2" height="10.75" fill="#f23645"/>
<rect x="1120.47" y="415.97" width="1.2" height="13.84" fill="#f23645"/>
<rect x="1119.47" y="421.75" width="3.2" height="2.02" fill="#f23645"/>
<rect x="1124.34" y="420.00" width="1.2" height="7.53" fill="#f23645"/>
<rect x="1123.34" y="423.09" width="3.2" height="3.63" fill="#f23645"/>
<rect x="1128.22" y="421.34" width="1.2" height="11.16" fill="#089981"/>
<rect x="1127.22" y="425.38" width="3.2" height="1.34" fill="#089981"/>
<rect x="1132.09" y="422.15" width="1.2" height="11.29" fill="#f23645"/>
<rect x="1131.09" y="425.78" width="3.2" height="6.32" fill="#f23645"/>
<rect x="1135.96" y="426.45" width="1.2" height="5.38" fill="#089981"/>
<rect x="1134.96" y="428.06" width="3.2" height="3.49" fill="#089981"/>
<rect x="1139.83" y="425.38" width="1.2" height="3.76" fill="#089981"/>
<rect x="1138.83" y="425.78" width="3.2" height="3.09" fill="#089981"/>
<rect x="1143.70" y="425.11" width="1.2" height="4.30" fill="#f23645"/>
<rect x="1142.70" y="426.18" width="3.2" height="2.96" fill="#f23645"/>
<rect x="1147.57" y="417.72" width="1.2" height="11.42" fill="#089981"/>
<rect x="1146.57" y="421.34" width="3.2" height="7.53" fill="#089981"/>
<rect x="1151.44" y="415.43" width="1.2" height="26.48" fill="#f23645"/>
<rect x="1150.44" y="421.75" width="3.2" height="19.49" fill="#f23645"/>
<rect x="1155.31" y="439.14" width="1.2" height="26.61" fill="#f23645"/>
<rect x="1154.31" y="440.75" width="3.2" height="13.84" fill="#f23645"/>
<rect x="1159.18" y="442.50" width="1.2" height="18.15" fill="#089981"/>
<rect x="1158.18" y="449.22" width="3.2" height="5.78" fill="#089981"/>
<rect x="1163.05" y="446.13" width="1.2" height="10.48" fill="#f23645"/>
<rect x="1162.05" y="449.22" width="3.2" height="3.63" fill="#f23645"/>
<rect x="1166.92" y="452.58" width="1.2" height="13.17" fill="#f23645"/>
<rect x="1165.92" y="453.25" width="3.2" height="10.75" fill="#f23645"/>
<rect x="1170.79" y="451.91" width="1.2" height="12.77" fill="#089981"/>
<rect x="1169.79" y="455.94" width="3.2" height="8.06" fill="#089981"/>
<rect x="1174.67" y="440.22" width="1.2" height="16.67" fill="#089981"/>
<rect x="1173.67" y="442.90" width="3.2" height="13.71" fill="#089981"/>
<rect x="1178.54" y="428.66" width="1.2" height="25.00" fill="#f23645"/>
<rect x="1177.54" y="442.87" width="3.2" height="1.00" fill="#f23645"/>
<rect x="1182.41" y="436.72" width="1.2" height="15.86" fill="#089981"/>
<rect x="1181.41" y="441.16" width="3.2" height="2.02" fill="#089981"/>
<rect x="1186.28" y="417.90" width="1.2" height="31.99" fill="#089981"/>
<rect x="1185.28" y="418.31" width="3.2" height="23.52" fill="#089981"/>
<rect x="1190.15" y="416.02" width="1.2" height="11.69" fill="#089981"/>
<rect x="1189.15" y="417.90" width="3.2" height="1.08" fill="#089981"/>
<rect x="1194.02" y="413.33" width="1.2" height="39.25" fill="#f23645"/>
<rect x="1193.02" y="418.31" width="3.2" height="24.87" fill="#f23645"/>
<rect x="1197.89" y="390.08" width="1.2" height="53.76" fill="#089981"/>
<rect x="1196.89" y="427.72" width="3.2" height="15.73" fill="#089981"/>
<rect x="1201.76" y="420.59" width="1.2" height="31.32" fill="#f23645"/>
<rect x="1200.76" y="427.72" width="3.2" height="12.10" fill="#f23645"/>
<rect x="1205.63" y="392.10" width="1.2" height="59.81" fill="#089981"/>
<rect x="1204.63" y="399.09" width="3.2" height="40.05" fill="#089981"/>
<rect x="1209.50" y="398.82" width="1.2" height="18.82" fill="#f23645"/>
<rect x="1208.50" y="399.49" width="3.2" height="15.19" fill="#f23645"/>
<rect x="1213.37" y="393.17" width="1.2" height="23.39" fill="#089981"/>
<rect x="1212.37" y="404.87" width="3.2" height="10.75" fill="#089981"/>
<rect x="1217.24" y="386.72" width="1.2" height="22.18" fill="#f23645"/>
<rect x="1216.24" y="405.27" width="3.2" height="3.23" fill="#f23645"/>
<rect x="1221.11" y="399.09" width="1.2" height="14.78" fill="#f23645"/>
<rect x="1220.11" y="407.96" width="3.2" height="5.65" fill="#f23645"/>
<rect x="1224.99" y="411.59" width="1.2" height="12.50" fill="#f23645"/>
<rect x="1223.99" y="412.26" width="3.2" height="1.61" fill="#f23645"/>
<rect x="1228.86" y="406.88" width="1.2" height="13.44" fill="#089981"/>
<rect x="1227.86" y="409.84" width="3.2" height="4.44" fill="#089981"/>
<rect x="1232.73" y="343.28" width="1.2" height="67.72" fill="#089981"/>
<rect x="1231.73" y="357.26" width="3.2" height="53.34" fill="#089981"/>
<rect x="1236.60" y="354.03" width="1.2" height="17.07" fill="#f23645"/>
<rect x="1235.60" y="357.66" width="3.2" height="5.38" fill="#f23645"/>
<rect x="1240.47" y="356.32" width="1.2" height="11.42" fill="#f23645"/>
<rect x="1239.47" y="362.10" width="3.2" height="5.38" fill="#f23645"/>
<rect x="1244.34" y="336.16" width="1.2" height="30.91" fill="#089981"/>
<rect x="1243.34" y="344.89" width="3.2" height="21.77" fill="#089981"/>
<rect x="1248.21" y="312.90" width="1.2" height="36.69" fill="#089981"/>
<rect x="1247.21" y="340.19" width="3.2" height="5.38" fill="#089981"/>
<rect x="1252.08" y="325.00" width="1.2" height="16.53" fill="#089981"/>
<rect x="1251.08" y="325.40" width="3.2" height="15.73" fill="#089981"/>
<rect x="1255.95" y="322.72" width="1.2" height="10.08" fill="#f23645"/>
<rect x="1254.95" y="325.00" width="3.2" height="6.18" fill="#f23645"/>
<rect x="1259.82" y="318.01" width="1.2" height="13.44" fill="#089981"/>
<rect x="1258.82" y="326.08" width="3.2" height="5.11" fill="#089981"/>
<rect x="1263.69" y="311.96" width="1.2" height="15.73" fill="#089981"/>
<rect x="1262.69" y="324.46" width="3.2" height="2.28" fill="#089981"/>
<rect x="1267.56" y="282.39" width="1.2" height="42.61" fill="#089981"/>
<rect x="1266.56" y="295.83" width="3.2" height="28.90" fill="#089981"/>
<rect x="1271.44" y="290.46" width="1.2" height="42.61" fill="#f23645"/>
<rect x="1270.44" y="295.83" width="3.2" height="31.59" fill="#f23645"/>
<rect x="1275.31" y="291.13" width="1.2" height="45.43" fill="#089981"/>
<rect x="1274.31" y="298.52" width="3.2" height="29.17" fill="#089981"/>
<rect x="1279.18" y="298.12" width="1.2" height="25.00" fill="#f23645"/>
<rect x="1278.18" y="298.52" width="3.2" height="22.85" fill="#f23645"/>
<rect x="1283.05" y="320.70" width="1.2" height="20.16" fill="#f23645"/>
<rect x="1282.05" y="320.97" width="3.2" height="18.28" fill="#f23645"/>
<rect x="1286.92" y="331.45" width="1.2" height="19.09" fill="#089981"/>
<rect x="1285.92" y="337.47" width="3.2" height="1.00" fill="#089981"/>
<rect x="1290.79" y="336.16" width="1.2" height="19.22" fill="#f23645"/>
<rect x="1289.79" y="337.50" width="3.2" height="2.02" fill="#f23645"/>
<rect x="1294.66" y="316.94" width="1.2" height="22.58" fill="#089981"/>
<rect x="1293.66" y="325.00" width="3.2" height="14.25" fill="#089981"/>
<rect x="1298.53" y="294.90" width="1.2" height="83.19" fill="#f23645"/>
<rect x="1297.53" y="321.80" width="3.2" height="55.62" fill="#f23645"/>
<rect x="1302.40" y="375.40" width="1.2" height="21.51" fill="#f23645"/>
<rect x="1301.40" y="376.08" width="3.2" height="6.72" fill="#f23645"/>
<rect x="1306.27" y="370.03" width="1.2" height="17.47" fill="#089981"/>
<rect x="1305.27" y="373.12" width="3.2" height="9.68" fill="#089981"/>
<rect x="1310.14" y="369.09" width="1.2" height="9.95" fill="#f23645"/>
<rect x="1309.14" y="373.12" width="3.2" height="5.65" fill="#f23645"/>
<rect x="1314.01" y="376.08" width="1.2" height="11.42" fill="#089981"/>
<rect x="1313.01" y="376.78" width="3.2" height="1.00" fill="#089981"/>
<rect x="1317.88" y="357.26" width="1.2" height="20.43" fill="#089981"/>
<rect x="1316.88" y="358.60" width="3.2" height="18.82" fill="#089981"/>
<rect x="1321.76" y="351.21" width="1.2" height="8.74" fill="#089981"/>
<rect x="1320.76" y="355.65" width="3.2" height="4.03" fill="#089981"/>
<rect x="1325.63" y="354.84" width="1.2" height="4.44" fill="#f23645"/>
<rect x="1324.63" y="355.91" width="3.2" height="2.96" fill="#f23645"/>
<rect x="1329.50" y="352.96" width="1.2" height="9.68" fill="#f23645"/>
<rect x="1328.50" y="357.93" width="3.2" height="4.44" fill="#f23645"/>
<rect x="1333.37" y="361.29" width="1.2" height="2.96" fill="#f23645"/>
<rect x="1332.37" y="361.56" width="3.2" height="2.42" fill="#f23645"/>
<rect x="1337.24" y="359.27" width="1.2" height="10.08" fill="#f23645"/>
<rect x="1336.24" y="363.98" width="3.2" height="4.30" fill="#f23645"/>
<rect x="1341.11" y="363.31" width="1.2" height="8.74" fill="#f23645"/>
<rect x="1340.11" y="366.84" width="3.2" height="1.00" fill="#f23645"/>
<rect x="1344.98" y="364.65" width="1.2" height="6.72" fill="#089981"/>
<rect x="1343.98" y="365.99" width="3.2" height="1.75" fill="#089981"/>
<rect x="1348.85" y="364.65" width="1.2" height="8.74" fill="#f23645"/>
<rect x="1347.85" y="365.99" width="3.2" height="6.72" fill="#f23645"/>
<rect x="1352.72" y="370.03" width="1.2" height="9.01" fill="#f23645"/>
<rect x="1351.72" y="371.37" width="3.2" height="6.72" fill="#f23645"/>
<rect x="1356.59" y="370.70" width="1.2" height="10.75" fill="#089981"/>
<rect x="1355.59" y="372.72" width="3.2" height="4.70" fill="#089981"/>
<rect x="1360.46" y="364.65" width="1.2" height="22.85" fill="#f23645"/>
<rect x="1359.46" y="372.72" width="3.2" height="14.38" fill="#f23645"/>
<rect x="1364.33" y="379.84" width="1.2" height="32.53" fill="#f23645"/>
<rect x="1363.33" y="386.16" width="3.2" height="14.38" fill="#f23645"/>
<rect x="1368.21" y="388.84" width="1.2" height="18.82" fill="#089981"/>
<rect x="1367.21" y="394.89" width="3.2" height="6.05" fill="#089981"/>
<rect x="1372.08" y="391.13" width="1.2" height="25.00" fill="#f23645"/>
<rect x="1371.08" y="393.82" width="3.2" height="21.91" fill="#f23645"/>
<rect x="1375.95" y="398.66" width="1.2" height="18.01" fill="#089981"/>
<rect x="1374.95" y="402.28" width="3.2" height="14.11" fill="#089981"/>
<rect x="1379.82" y="387.10" width="1.2" height="19.22" fill="#089981"/>
<rect x="1378.82" y="387.90" width="3.2" height="14.78" fill="#089981"/>
<rect x="1383.69" y="368.68" width="1.2" height="19.76" fill="#089981"/>
<rect x="1382.69" y="370.70" width="3.2" height="17.47" fill="#089981"/>
<rect x="1387.56" y="342.11" width="1.2" height="33.40" fill="#089981"/>
<rect x="1386.56" y="351.98" width="3.2" height="20.70" fill="#089981"/>
<rect x="1391.43" y="346.81" width="1.2" height="40.92" fill="#089981"/>
<rect x="1390.43" y="350.10" width="3.2" height="2.35" fill="#089981"/>
<rect x="1395.30" y="346.81" width="1.2" height="22.58" fill="#f23645"/>
<rect x="1394.30" y="350.10" width="3.2" height="13.64" fill="#f23645"/>
<rect x="1399.17" y="363.46" width="1.2" height="11.10" fill="#f23645"/>
<rect x="1398.17" y="364.21" width="3.2" height="8.47" fill="#f23645"/>
<rect x="1403.04" y="355.00" width="1.2" height="18.16" fill="#089981"/>
<rect x="1402.04" y="359.32" width="3.2" height="13.55" fill="#089981"/>
<rect x="1406.91" y="350.10" width="1.2" height="9.60" fill="#089981"/>
<rect x="1405.91" y="352.17" width="3.2" height="7.34" fill="#089981"/>
<rect x="1410.78" y="343.05" width="1.2" height="9.69" fill="#089981"/>
<rect x="1409.78" y="343.99" width="3.2" height="8.47" fill="#089981"/>
<rect x="1414.65" y="342.58" width="1.2" height="2.82" fill="#f23645"/>
<rect x="1413.65" y="343.99" width="3.2" height="1.22" fill="#f23645"/>
<rect x="1418.53" y="343.99" width="1.2" height="4.70" fill="#089981"/>
<rect x="1417.53" y="344.65" width="3.2" height="1.22" fill="#089981"/>
<rect x="1422.40" y="337.69" width="1.2" height="7.24" fill="#089981"/>
<rect x="1421.40" y="338.06" width="3.2" height="6.59" fill="#089981"/>
<rect x="1426.27" y="337.69" width="1.2" height="3.76" fill="#f23645"/>
<rect x="1425.27" y="338.06" width="3.2" height="2.63" fill="#f23645"/>
</g>
<polyline points="9.00,187.46 13.78,189.07 17.65,190.74 21.52,192.39 25.39,193.99 29.26,195.60 33.13,197.22 37.00,198.91 40.87,200.48 44.74,202.00 48.61,203.54 52.48,205.14 56.35,206.51 60.22,207.97 64.10,209.34 67.97,210.65 71.84,211.83 75.71,212.85 79.58,213.76 83.45,213.35 87.32,212.74 91.19,211.93 95.06,211.27 98.93,210.59 102.80,209.98 106.67,209.96 110.55,210.07 114.42,210.13 118.29,210.09 122.16,210.11 126.03,210.08 129.90,210.03 133.77,210.18 137.64,210.25 141.51,210.36 145.38,210.52 149.25,210.65 153.12,210.83 156.99,210.77 160.87,210.88 164.74,211.08 168.61,211.45 172.48,212.03 176.35,212.40 180.22,212.88 184.09,213.69 187.96,214.82 191.83,216.36 195.70,217.73 199.57,219.13 203.44,220.47 207.32,221.88 211.19,223.22 215.06,224.56 218.93,225.91 222.80,227.28 226.67,228.52 230.54,229.72 234.41,230.96 238.28,232.28 242.15,233.69 246.02,235.22 249.89,237.12 253.76,239.29 257.64,241.54 261.51,243.55 265.38,245.62 269.25,247.80 273.12,250.36 276.99,252.54 280.86,254.45 284.73,256.31 288.60,258.21 292.47,260.04 296.34,261.72 300.21,263.40 304.09,265.07 307.96,266.68 311.83,268.37 315.70,269.99 319.57,271.64 323.44,273.22 327.31,274.80 331.18,276.34 335.05,277.96 338.92,279.60 342.79,281.18 346.66,282.59 350.53,283.92 354.41,285.25 358.28,286.59 362.15,287.83 366.02,289.00 369.89,290.15 373.76,291.17 377.63,292.11 381.50,293.03 385.37,293.74 389.24,294.52 393.11,295.25 396.98,296.02 400.86,296.66 404.73,297.22 408.60,297.85 412.47,298.65 416.34,299.51 420.21,300.34 424.08,301.25 427.95,302.11 431.82,302.75 435.69,303.58 439.56,304.50 443.43,305.39 447.30,306.32 451.18,307.26 455.05,307.91 458.92,308.20 462.79,308.71 466.66,309.20 470.53,309.66 474.40,310.23 478.27,310.68 482.14,311.16 486.01,311.62 489.88,312.05 493.75,312.49 497.63,312.96 501.50,313.45 505.37,313.86 509.24,314.30 513.11,314.76 516.98,315.25 520.85,315.69 524.72,316.26 528.59,316.71 532.46,317.09 536.33,317.53 540.20,317.70 544.07,317.84 547.95,318.09 551.82,318.38 555.69,318.57 559.56,318.75 563.43,318.97 567.30,319.23 571.17,319.52 575.04,319.77 578.91,320.07 582.78,320.31 586.65,320.52 590.52,320.72 594.40,320.95 598.27,321.20 602.14,321.57 606.01,321.89 609.88,322.19 613.75,322.61 617.62,323.09 621.49,323.72 625.36,324.49 629.23,325.10 633.10,325.63 636.97,326.43 640.84,327.14 644.72,327.74 648.59,328.40 652.46,329.35 656.33,330.30 660.20,331.23 664.07,332.09 667.94,333.05 671.81,334.07 675.68,335.02 679.55,336.01 683.42,336.92 687.29,337.80 691.17,338.64 695.04,339.34 698.91,340.04 702.78,340.69 706.65,341.36 710.52,342.17 714.39,343.55 718.26,344.65 722.13,345.60 726.00,346.90 729.87,348.00 733.74,348.98 737.61,350.19 741.49,351.41 745.36,352.36 749.23,353.35 753.10,354.29 756.97,355.20 760.84,356.16 764.71,357.09 768.58,358.04 772.45,358.95 776.32,359.97 780.19,360.90 784.06,361.84 787.94,362.81 791.81,363.71 795.68,364.54 799.55,365.28 803.42,365.89 807.29,366.30 811.16,366.68 815.03,366.88 818.90,366.92 822.77,366.84 826.64,366.79 830.51,366.58 834.38,366.63 838.26,366.73 842.13,366.85 846.00,367.06 849.87,367.04 853.74,367.02 857.61,367.04 861.48,367.07 865.35,367.11 869.22,367.17 873.09,367.17 876.96,367.18 880.83,367.13 884.71,367.06 888.58,366.96 892.45,366.82 896.32,366.85 900.19,366.97 904.06,366.93 907.93,367.11 911.80,367.29 915.67,367.78 919.54,368.35 923.41,368.95 927.28,369.60 931.15,370.16 935.03,370.73 938.90,371.10 942.77,371.42 946.64,371.76 950.51,372.12 954.38,372.49 958.25,372.87 962.12,373.32 965.99,373.71 969.86,374.00 973.73,374.43 977.60,374.81 981.48,375.26 985.35,375.79 989.22,376.51 993.09,377.22 996.96,377.90 1000.83,378.70 1004.70,379.58 1008.57,380.25 1012.44,381.29 1016.31,382.36 1020.18,383.31 1024.05,384.21 1027.92,385.09 1031.80,385.91 1035.67,386.83 1039.54,387.72 1043.41,388.63 1047.28,389.51 1051.15,390.39 1055.02,391.28 1058.89,392.18 1062.76,392.86 1066.63,393.53 1070.50,394.14 1074.37,394.69 1078.25,395.20 1082.12,395.77 1085.99,396.38 1089.86,397.04 1093.73,397.53 1097.60,397.86 1101.47,398.42 1105.34,398.39 1109.21,398.38 1113.08,398.53 1116.95,398.79 1120.82,399.06 1124.69,399.35 1128.57,399.62 1132.44,399.97 1136.31,400.26 1140.18,400.52 1144.05,400.80 1147.92,401.00 1151.79,401.39 1155.66,401.92 1159.53,402.38 1163.40,402.88 1167.27,403.46 1171.14,403.96 1175.02,404.32 1178.89,404.69 1182.76,405.02 1186.63,405.12 1190.50,405.21 1194.37,405.56 1198.24,405.74 1202.11,406.05 1205.98,405.94 1209.85,405.98 1213.72,405.93 1217.59,405.91 1221.46,405.94 1225.34,405.97 1229.21,405.96 1233.08,405.41 1236.95,404.92 1240.82,404.50 1244.69,403.90 1248.56,403.26 1252.43,402.48 1256.30,401.77 1260.17,401.01 1264.04,400.25 1267.91,399.22 1271.79,398.51 1275.66,397.52 1279.53,396.77 1283.40,396.21 1287.27,395.65 1291.14,395.13 1295.01,394.46 1298.88,394.32 1302.75,394.22 1306.62,394.02 1310.49,393.88 1314.36,393.73 1318.23,393.39 1322.11,393.03 1325.98,392.69 1329.85,392.37 1333.72,392.07 1337.59,391.82 1341.46,391.57 1345.33,391.30 1349.20,391.10 1353.07,390.95 1356.94,390.75 1360.81,390.70 1364.68,390.77 1368.56,390.79 1372.43,391.02 1376.30,391.11 1380.17,391.07 1384.04,390.86 1387.91,390.47 1391.78,390.06 1395.65,389.79 1399.52,389.63 1403.39,389.34 1407.26,388.97 1411.13,388.53 1415.00,388.13 1418.88,387.73 1422.75,387.28 1426.62,386.85" fill="none" stroke="#000000" stroke-width="1.8" stroke-linejoin="round"/>
<line x1="9" y1="340.5" x2="1473" y2="340.5" stroke="#f23645" stroke-opacity="0.8" stroke-width="1" stroke-dasharray="1.2 1.47"/>
<g shape-rendering="crispEdges">
<rect x="9" y="688" width="1464" height="1" fill="#e0e3eb"/>
<rect x="1475" y="688" width="51" height="1" fill="#e0e3eb"/>
<rect x="8.5" y="8.5" width="1519" height="705" fill="none" stroke="#eceef2" stroke-width="1"/>
<rect x="9.5" y="9.5" width="1517" height="703" fill="none" stroke="#f5f6f8" stroke-width="1"/>
</g>
<g font-family="'Liberation Sans', Arial, sans-serif">
<text x="1480.19" y="36.9" font-size="11.5" fill="#252833" stroke="#252833" stroke-width="0.25" textLength="38.32" lengthAdjust="spacingAndGlyphs">1.09000</text>
<text x="1480.19" y="77.3" font-size="11.5" fill="#252833" stroke="#252833" stroke-width="0.25" textLength="38.32" lengthAdjust="spacingAndGlyphs">1.08800</text>
<text x="1480.19" y="117.7" font-size="11.5" fill="#252833" stroke="#252833" stroke-width="0.25" textLength="38.32" lengthAdjust="spacingAndGlyphs">1.08600</text>
<text x="1480.19" y="158.1" font-size="11.5" fill="#252833" stroke="#252833" stroke-width="0.25" textLength="38.32" lengthAdjust="spacingAndGlyphs">1.08400</text>
<text x="1480.19" y="198.5" font-size="11.5" fill="#252833" stroke="#252833" stroke-width="0.25" textLength="38.32" lengthAdjust="spacingAndGlyphs">1.08200</text>
<text x="1480.19" y="238.9" font-size="11.5" fill="#252833" stroke="#252833" stroke-width="0.25" textLength="38.32" lengthAdjust="spacingAndGlyphs">1.08000</text>
<text x="1480.19" y="279.3" font-size="11.5" fill="#252833" stroke="#252833" stroke-width="0.25" textLength="38.32" lengthAdjust="spacingAndGlyphs">1.07800</text>
<text x="1480.19" y="319.7" font-size="11.5" fill="#252833" stroke="#252833" stroke-width="0.25" textLength="38.32" lengthAdjust="spacingAndGlyphs">1.07600</text>
<text x="1480.19" y="360.1" font-size="11.5" fill="#252833" stroke="#252833" stroke-width="0.25" textLength="38.32" lengthAdjust="spacingAndGlyphs">1.07400</text>
<text x="1480.19" y="400.5" font-size="11.5" fill="#252833" stroke="#252833" stroke-width="0.25" textLength="38.32" lengthAdjust="spacingAndGlyphs">1.07200</text>
<text x="1480.19" y="440.9" font-size="11.5" fill="#252833" stroke="#252833" stroke-width="0.25" textLength="38.32" lengthAdjust="spacingAndGlyphs">1.07000</text>
<text x="1480.19" y="481.3" font-size="11.5" fill="#252833" stroke="#252833" stroke-width="0.25" textLength="38.32" lengthAdjust="spacingAndGlyphs">1.06800</text>
<text x="1480.19" y="521.7" font-size="11.5" fill="#252833" stroke="#252833" stroke-width="0.25" textLength="38.32" lengthAdjust="spacingAndGlyphs">1.06600</text>
<text x="1480.19" y="562.1" font-size="11.5" fill="#252833" stroke="#252833" stroke-width="0.25" textLength="38.32" lengthAdjust="spacingAndGlyphs">1.06400</text>
<text x="1480.19" y="602.5" font-size="11.5" fill="#252833" stroke="#252833" stroke-width="0.25" textLength="38.32" lengthAdjust="spacingAndGlyphs">1.06200</text>
<text x="1480.19" y="642.9" font-size="11.5" fill="#252833" stroke="#252833" stroke-width="0.25" textLength="38.32" lengthAdjust="spacingAndGlyphs">1.06000</text>
<text x="1480.19" y="683.3" font-size="11.5" fill="#252833" stroke="#252833" stroke-width="0.25" textLength="38.32" lengthAdjust="spacingAndGlyphs">1.05800</text>
<path d="M1474 333.3h47.3a2 2 0 0 1 2 2v10.8a2 2 0 0 1 -2 2h-47.3z" fill="#f23645"/>
<text x="1480.34" y="344.9" font-size="11.5" fill="#ffffff" font-weight="bold" textLength="37.92" lengthAdjust="spacingAndGlyphs">1.07477</text>
<path d="M1474 379.7h47.3a2 2 0 0 1 2 2v11a2 2 0 0 1 -2 2h-47.3z" fill="#000000"/>
<text x="1480.34" y="391.3" font-size="11.5" fill="#ffffff" font-weight="bold" textLength="37.92" lengthAdjust="spacingAndGlyphs">1.07247</text>
<text x="30.48" y="704" font-size="11" fill="#252833" stroke="#252833" stroke-width="0.25" textLength="11.96" lengthAdjust="spacingAndGlyphs">12</text>
<text x="123.99" y="704" font-size="11" fill="#252833" stroke="#252833" stroke-width="0.25" textLength="11.88" lengthAdjust="spacingAndGlyphs">13</text>
<text x="216.75" y="704" font-size="11" fill="#252833" stroke="#252833" stroke-width="0.25" textLength="11.71" lengthAdjust="spacingAndGlyphs">14</text>
<text x="297.99" y="704" font-size="11" fill="#252833" stroke="#252833" stroke-width="0.25" textLength="11.88" lengthAdjust="spacingAndGlyphs">16</text>
<text x="401.99" y="704" font-size="11" fill="#252833" stroke="#252833" stroke-width="0.25" textLength="11.88" lengthAdjust="spacingAndGlyphs">18</text>
<text x="494.73" y="704" font-size="11" fill="#252833" stroke="#252833" stroke-width="0.25" textLength="11.92" lengthAdjust="spacingAndGlyphs">19</text>
<text x="588.03" y="704" font-size="11" fill="#252833" stroke="#252833" stroke-width="0.25" textLength="11.53" lengthAdjust="spacingAndGlyphs">20</text>
<text x="681.02" y="704" font-size="11" fill="#252833" stroke="#252833" stroke-width="0.25" textLength="11.64" lengthAdjust="spacingAndGlyphs">21</text>
<text x="762.58" y="704" font-size="11" fill="#252833" stroke="#252833" stroke-width="0.25" textLength="11.58" lengthAdjust="spacingAndGlyphs">23</text>
<text x="866.78" y="704" font-size="11" fill="#252833" stroke="#252833" stroke-width="0.25" textLength="11.56" lengthAdjust="spacingAndGlyphs">25</text>
<text x="959.28" y="704" font-size="11" fill="#252833" stroke="#252833" stroke-width="0.25" textLength="11.58" lengthAdjust="spacingAndGlyphs">26</text>
<text x="1052.27" y="704" font-size="11" fill="#252833" stroke="#252833" stroke-width="0.25" textLength="11.65" lengthAdjust="spacingAndGlyphs">27</text>
<text x="1146.03" y="704" font-size="11" fill="#252833" stroke="#252833" stroke-width="0.25" textLength="11.58" lengthAdjust="spacingAndGlyphs">28</text>
<text x="1236.68" y="704" font-size="11" fill="#252833" font-weight="bold" textLength="15.95" lengthAdjust="spacingAndGlyphs">Jul</text>
<text x="1333.92" y="704" font-size="11" fill="#252833" stroke="#252833" stroke-width="0.25" textLength="5.86" lengthAdjust="spacingAndGlyphs">2</text>
<text x="1427.06" y="704" font-size="11" fill="#252833" stroke="#252833" stroke-width="0.25" textLength="5.63" lengthAdjust="spacingAndGlyphs">3</text>
<text x="15.46" y="25.6" font-size="11" fill="#252833" stroke="#252833" stroke-width="0.25" textLength="87.11" lengthAdjust="spacingAndGlyphs">EUR/USD Spot, 1h</text>
<text x="108.34" y="25.6" font-size="11" fill="#252833" stroke="#252833" stroke-width="0.25" textLength="7.63" lengthAdjust="spacingAndGlyphs">O</text>
<text x="116.23" y="25.6" font-size="11" fill="#f23645" stroke="#f23645" stroke-width="0.25" textLength="36.56" lengthAdjust="spacingAndGlyphs">1.07491</text>
<text x="159.12" y="25.6" font-size="11" fill="#252833" stroke="#252833" stroke-width="0.25" textLength="7.76" lengthAdjust="spacingAndGlyphs">H</text>
<text x="167.03" y="25.6" font-size="11" fill="#f23645" stroke="#f23645" stroke-width="0.25" textLength="36.67" lengthAdjust="spacingAndGlyphs">1.07491</text>
<text x="210.26" y="25.6" font-size="11" fill="#252833" stroke="#252833" stroke-width="0.25" textLength="5.68" lengthAdjust="spacingAndGlyphs">L</text>
<text x="216.21" y="25.6" font-size="11" fill="#f23645" stroke="#f23645" stroke-width="0.25" textLength="37.58" lengthAdjust="spacingAndGlyphs">1.07469</text>
<text x="260.03" y="25.6" font-size="11" fill="#252833" stroke="#252833" stroke-width="0.25" textLength="6.61" lengthAdjust="spacingAndGlyphs">C</text>
<text x="267.23" y="25.6" font-size="11" fill="#f23645" stroke="#f23645" stroke-width="0.25" textLength="36.68" lengthAdjust="spacingAndGlyphs">1.07477</text>
<text x="310.80" y="25.6" font-size="11" fill="#f23645" stroke="#f23645" stroke-width="0.25" textLength="87.13" lengthAdjust="spacingAndGlyphs">−0.00014 (−0.01%)</text>
<text x="15.43" y="40.9" font-size="11" fill="#252833" stroke="#252833" stroke-width="0.25" textLength="87.43" lengthAdjust="spacingAndGlyphs">EMA (50, close, 0)</text>
<text x="15.44" y="56.2" font-size="11" fill="#252833" stroke="#252833" stroke-width="0.25" textLength="92.21" lengthAdjust="spacingAndGlyphs">EMA (200, close, 0)</text>
<text x="114.21" y="56.2" font-size="11" fill="#252833" stroke="#252833" stroke-width="0.25" textLength="37.51" lengthAdjust="spacingAndGlyphs">1.07247</text>
<g transform="translate(9 721.9) scale(0.478)" fill="#000000"><path d="M14 22H7V11H0V4h14v18zM28 22h-8l7.5-18h8L28 22z"/><circle cx="20" cy="8" r="4"/></g>
<text x="29.35" y="732.6" font-size="12" fill="#3a3d46" stroke="#3a3d46" stroke-width="0.25" textLength="62.73" lengthAdjust="spacingAndGlyphs">TradingView</text>
</g>
</svg>
</body></html>
